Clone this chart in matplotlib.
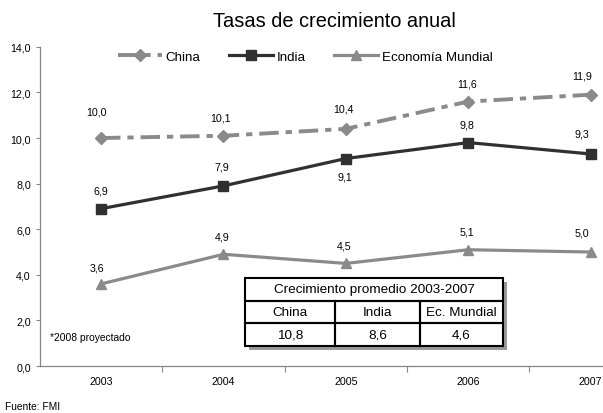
import matplotlib
matplotlib.use('Agg')
import matplotlib.pyplot as plt
from matplotlib.patches import Rectangle

plt.rcParams['font.family'] = ['Liberation Sans', 'DejaVu Sans']
plt.rcParams['lines.scale_dashes'] = False

# data
years = ['2003', '2004', '2005', '2006', '2007']
china = [10.0, 10.1, 10.4, 11.6, 11.9]
india = [6.9, 7.9, 9.1, 9.8, 9.3]
mundial = [3.6, 4.9, 4.5, 5.1, 5.0]
table_title = 'Crecimiento promedio 2003-2007'
table_cols = ['China', 'India', 'Ec. Mundial']
table_vals = [10.8, 8.6, 4.6]

# label offsets in points (dx, dy), Excel placed some by hand
off_china = [(-3, 19), (-2, 13), (-2, 15), (-1, 13), (-6, 14)]
off_india = [(0, 13), (-1, 14), (-1, -13), (-1, 13), (-6, 15)]
off_mundial = [(-3, 12), (-1, 13), (-1, 13), (-1, 13), (-6, 14)]

GRAY = '#8a8a8a'
DARK = '#303030'
AXC = '#868686'


def fmt(v):
    return '{:.1f}'.format(v).replace('.', ',')


fig = plt.figure(figsize=(6.03, 4.14), dpi=100)
ax = fig.add_axes([0.066, 0.1135, 1.015, 0.771])

x = list(range(len(years)))
l1, = ax.plot(x, china, color=GRAY, lw=2.8, linestyle=(0, (14, 5, 4.5, 5)),
              marker='D', ms=6, label='China', zorder=3)
l2, = ax.plot(x, india, color=DARK, lw=2.3, marker='s', ms=7,
              label='India', zorder=3)
l3, = ax.plot(x, mundial, color=GRAY, lw=2.3, marker='^', ms=7.5,
              label='Economía Mundial', zorder=3)

for vals, offs in [(china, off_china), (india, off_india), (mundial, off_mundial)]:
    for xi, v, (dx, dy) in zip(x, vals, offs):
        ax.annotate(fmt(v), (xi, v), xytext=(dx, dy), textcoords='offset points',
                    ha='center', va='center', fontsize=7.7, color='black')

ax.set_xlim(-0.5, len(years) - 0.5)
ax.set_ylim(0, 14)
ax.set_yticks(range(0, 15, 2))
ax.set_yticklabels([fmt(v) for v in range(0, 15, 2)])
ax.set_xticks(x)
ax.set_xticklabels(years)
ax.set_xticks([i + 0.5 for i in x], minor=True)
ax.tick_params(axis='x', which='major', length=0, pad=7, labelsize=7.7)
ax.tick_params(axis='x', which='minor', length=4, width=0.8, color=AXC, direction='out')
ax.tick_params(axis='y', length=3, width=0.8, color=AXC, pad=3.5, labelsize=7.7)
for s in ['top', 'right']:
    ax.spines[s].set_visible(False)
for s in ['left', 'bottom']:
    ax.spines[s].set_color(AXC)
    ax.spines[s].set_linewidth(0.9)

fig.legend(handles=[l1, l2, l3], loc='center', bbox_to_anchor=(0.506, 0.861),
           ncol=3, frameon=False, fontsize=9.6, handlelength=3.3,
           handletextpad=0.3, columnspacing=2.1)

fig.text(0.554, 0.947, 'Tasas de crecimiento anual', ha='center', va='center',
         fontsize=14.4)
fig.text(0.083, 0.183, '*2008 proyectado', ha='left', va='center', fontsize=7.4)
fig.text(0.008, 0.017, 'Fuente: FMI', ha='left', va='center', fontsize=7.4)

# summary table with drop shadow
tax = fig.add_axes([0.4063, 0.1618, 0.4279, 0.1643])
tax.axis('off')
tax.add_patch(Rectangle((0.014, -0.055), 1, 1, transform=tax.transAxes,
                        facecolor='#9a9a9a', edgecolor='none', clip_on=False, zorder=0))
tax.add_patch(Rectangle((0, 0), 1, 1, transform=tax.transAxes,
                        facecolor='white', edgecolor='none', clip_on=False, zorder=1))
cells = [['', '', ''], table_cols, [fmt(v) for v in table_vals]]
tb = tax.table(cellText=cells, cellLoc='center', bbox=[0, 0, 1, 1],
               colWidths=[90, 85, 83])
tb.auto_set_font_size(False)
tb.set_fontsize(9.7)
tb.set_zorder(2)
for (r, c), cell in tb.get_celld().items():
    cell.set_linewidth(1.5)
    cell.set_edgecolor('black')
    cell.set_facecolor('none')
    if r == 0:
        cell.visible_edges = {0: 'BTL', 1: 'BT', 2: 'BTR'}[c]
tax.text(0.5, 5 / 6, table_title, transform=tax.transAxes, ha='center',
         va='center', fontsize=9.7, zorder=3)

fig.savefig('out.png', dpi=100)
